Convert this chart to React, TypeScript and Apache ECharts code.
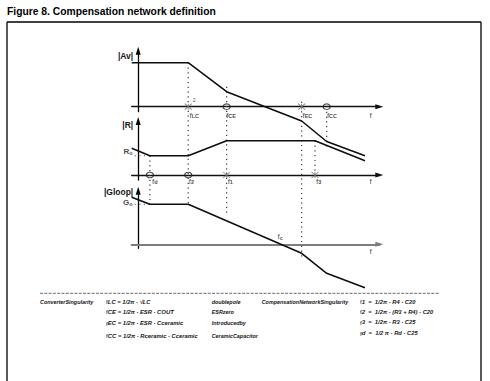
import React, { useEffect, useRef } from 'react';
import * as echarts from 'echarts';

const FONT = '"Liberation Sans", Arial, Helvetica, sans-serif';
const TXT = '#161616';

// ---- Frequency positions (log-frequency units, 0 = vertical axis) ----
const avFreq = [-0.65, 5.0, 8.84, 16.34, 18.84, 22.67];
const avMag = [4.4, 4.4, 1.5, -1.43, -3.48, -4.9];
const rFreq = [-0.65, 1.17, 5.0, 8.84, 17.67, 22.67];
const rMag = [2.67, 1.93, 1.93, 3.43, 3.43, 1.43];
const gFreq = [-0.65, 1.17, 5.0, 16.34, 18.84, 22.67];
const gMag = [4.7, 4.0, 4.0, -0.9, -2.9, -4.34];

// singularities on each frequency axis
const avPoles = [5.0, 16.34];
const avZeros = [8.84, 18.84];
const rPoles = [8.84, 17.67];
const rZeros = [1.17, 5.0];

// frequency labels
const avLabelFreq = [5.0, 8.84, 16.34, 18.84];
const avLabelSub = ['LC', 'CE', 'EC', 'CC'];
const rLabelFreq = [1.17, 5.0, 8.84, 17.67];
const rLabelSub = ['d', '2', '1', '3'];
const crossFreq = 14.17;
const axisEndFreq = 23.17;

// dotted guides (panel units)
const avGuideFreq = [5.0, 8.84, 16.34, 18.84];
const avGuideFrom = [4.4, 2.0, 0.5, -0.5];
const avGuideTo = [-9.76, -10.93, -15.13, -4.33];
const rGuideFreq = [1.17, 17.67];
const rGuideFrom = [1.93, 3.43];
const rGuideTo = [-2.93, -0.3];

// axis names
const panelNames = ['|Av|', '|R|', '|Gloop|'];

// table texts
const converterTitle = 'ConverterSingularity';
const compensationTitle = 'CompensationNetworkSingularity';
const converterNotes = ['doublepole', 'ESRzero', 'Introducedby', 'CeramicCapacitor'];
const converterFormulas = [
  '{f|f}{s|LC}{t| = 1/2π · √LC}',
  '{f|f}{s|CE}{t| = 1/2π · ESR · C}{s|OUT}',
  '{f|f}{s|EC}{t| = 1/2π · ESR · Cceramic}',
  '{f|f}{s|CC}{t| = 1/2π · Rceramic · Cceramic}',
];
const compensationFormulas = [
  '{f|f}{s|1}{t|  =  1/2π · R4 · C20}',
  '{f|f}{s|2}{t|  =  1/2π · (R3 + R4) · C20}',
  '{f|f}{s|3}{t|  =  1/2π · R3 · C25}',
  '{f|f}{s|d}{t|  =  1/2 π · Rd · C25}',
];

const X_MIN = -0.65;
const X_MAX = 24.1;
const GRID_LEFT = 131.7;
const GRID_W = 247.6;

const richLab = {
  f: { fontSize: 8, fontFamily: FONT, color: TXT },
  s: { fontSize: 5.5, fontFamily: FONT, fontWeight: 'bold', color: TXT, verticalAlign: 'bottom' },
  n: { fontSize: 8, fontFamily: FONT, fontWeight: 'bold', color: TXT },
  sm: { fontSize: 5, fontFamily: FONT, color: TXT },
};

function curve(i: number, xs: number[], ys: number[]) {
  return {
    type: 'line', xAxisIndex: i, yAxisIndex: i, silent: true, clip: false,
    symbol: 'none', showSymbol: false, z: 5,
    data: xs.map((x, k) => [x, ys[k]]),
    lineStyle: { color: '#0d0d0d', width: 1.5 },
  };
}

function guides(i: number, xs: number[], from: number[], to: number[]) {
  return xs.map((x, k) => ({
    type: 'line', xAxisIndex: i, yAxisIndex: i, silent: true, clip: false,
    symbol: 'none', showSymbol: false, z: 3,
    data: [[x, from[k]], [x, to[k]]],
    lineStyle: { color: '#3a3a3a', width: 1.2, type: [1.2, 3.6] },
  }));
}

function leader(i: number, level: number) {
  return {
    type: 'line', xAxisIndex: i, yAxisIndex: i, silent: true, clip: false,
    symbol: 'none', showSymbol: false, z: 3,
    data: [[-0.35, level], [1.17, level]],
    lineStyle: { color: '#555', width: 1.1, type: [1.1, 3.5] },
  };
}

function zeros(i: number, xs: number[]) {
  return {
    type: 'scatter', xAxisIndex: i, yAxisIndex: i, silent: true, clip: false, z: 6,
    symbol: 'circle', symbolSize: [7, 5.6],
    itemStyle: { color: 'rgba(255,255,255,0)', borderColor: '#222', borderWidth: 1.2 },
    data: xs.map((x) => [x, 0]),
  };
}

function poles(i: number, xs: number[]) {
  return {
    type: 'scatter', xAxisIndex: i, yAxisIndex: i, silent: true, clip: false, z: 6,
    symbol: 'path://M0,0L8,6M8,0L0,6M4,0L4,6', symbolSize: [7, 6],
    itemStyle: { color: 'none', borderColor: '#777', borderWidth: 1 },
    data: xs.map((x) => [x, 0]),
  };
}

type Lab = { x: number; y: number; text: string; dx: number; dy: number; align?: string };
function labels(i: number, items: Lab[]) {
  return {
    type: 'scatter', xAxisIndex: i, yAxisIndex: i, silent: true, clip: false, z: 7,
    symbolSize: 1, itemStyle: { color: 'rgba(0,0,0,0)' },
    data: items.map((it) => ({
      value: [it.x, it.y],
      label: {
        show: true, formatter: it.text, position: [it.dx, it.dy],
        align: it.align || 'left', verticalAlign: 'middle', rich: richLab,
      },
    })),
  };
}

function xAxis(i: number, color: string, width: number) {
  return {
    type: 'value', gridIndex: i, min: X_MIN, max: X_MAX,
    axisLine: {
      show: true, onZero: true, symbol: ['none', 'triangle'], symbolSize: [5, 8],
      lineStyle: { color, width },
    },
    axisTick: { show: false }, axisLabel: { show: false }, splitLine: { show: false },
  };
}

function yAxis(i: number, min: number, max: number, nameGap: number) {
  return {
    type: 'value', gridIndex: i, min, max, position: 'left',
    offset: -(0 - X_MIN) * (GRID_W / (X_MAX - X_MIN)),
    name: panelNames[i], nameLocation: 'end', nameGap,
    nameTextStyle: {
      align: 'right', verticalAlign: 'middle', padding: [0, 5, 0, 0],
      fontSize: 8.5, fontWeight: 'bold', fontFamily: FONT, color: TXT,
    },
    axisLine: {
      show: true, onZero: false, symbol: ['none', 'triangle'], symbolSize: [5, 8],
      lineStyle: { color: '#000', width: 1.3 },
    },
    axisTick: { show: false }, axisLabel: { show: false }, splitLine: { show: false },
  };
}

function tableText(x: number, y: number, text: string, size: number) {
  return {
    type: 'text', x, y, silent: true,
    style: {
      text, fill: TXT, fontFamily: FONT, fontSize: size, fontStyle: 'italic', fontWeight: 'bold',
      verticalAlign: 'middle', align: 'left',
      rich: {
        f: { fontSize: 6.2, fontFamily: FONT, fontStyle: 'normal', fill: TXT, color: TXT, verticalAlign: 'top' },
        s: { fontSize: 6, fontFamily: FONT, fontStyle: 'italic', fontWeight: 'bold', fill: TXT, color: TXT, verticalAlign: 'bottom' },
        t: { fontSize: 5.8, fontFamily: FONT, fontStyle: 'italic', fontWeight: 'bold', fill: TXT, color: TXT },
      },
    },
  };
}

function buildOption() {
  const colRowsY = [301.7, 311.7, 323.3, 335.7];
  const col5RowsY = [301.7, 311.7, 322.3, 333.3];
  const graphics: any[] = [
    { type: 'line', silent: true, shape: { x1: 7, y1: 22, x2: 481, y2: 22 }, style: { stroke: '#000', lineWidth: 1.3 } },
    { type: 'line', silent: true, shape: { x1: 7, y1: 22, x2: 7, y2: 381 }, style: { stroke: '#000', lineWidth: 1.3 } },
    { type: 'line', silent: true, shape: { x1: 481, y1: 22, x2: 481, y2: 381 }, style: { stroke: '#000', lineWidth: 1.3 } },
    { type: 'line', silent: true, shape: { x1: 40, y1: 293.3, x2: 440, y2: 293.3 }, style: { stroke: '#6a6a6a', lineWidth: 1, lineDash: [3, 1.3] } },
    tableText(40, colRowsY[0], converterTitle, 5.4),
    tableText(261.7, col5RowsY[0], compensationTitle, 5.4),
  ];
  converterNotes.forEach((t, k) => graphics.push(tableText(211.7, colRowsY[k], t, 5.4)));
  converterFormulas.forEach((t, k) => graphics.push(tableText(106, colRowsY[k], t, 6)));
  compensationFormulas.forEach((t, k) => graphics.push(tableText(360, col5RowsY[k], t, 6)));

  const avLabs: Lab[] = avLabelFreq.map((x, k) => ({
    x, y: 0, text: `{f|f}{s|${avLabelSub[k]}}`, dx: [1.7, 0, 1.3, 0.7][k], dy: 8.8,
  }));
  avLabs.push({ x: axisEndFreq, y: 0, text: '{f|f}', dx: 0, dy: 8.8 });
  avLabs.push({ x: avPoles[0], y: 0, text: '{sm|2}', dx: 5, dy: -6.2 });

  const rLabs: Lab[] = rLabelFreq.map((x, k) => ({
    x, y: 0, text: `{f|f}{s|${rLabelSub[k]}}`, dx: [2.5, 1, 1.5, 1.5][k], dy: 6.5,
  }));
  rLabs.push({ x: axisEndFreq, y: 0, text: '{f|f}', dx: 0, dy: 6.5 });
  rLabs.push({ x: 0, y: rMag[1], text: '{n|R}{s|o}', dx: -5, dy: -3.5, align: 'right' });

  const gLabs: Lab[] = [
    { x: crossFreq, y: 0, text: '{f|f}{s|c}', dx: -2, dy: -7.2 },
    { x: axisEndFreq, y: 0, text: '{f|f}', dx: 0, dy: 7.8 },
    { x: 0, y: gMag[1], text: '{n|G}{s|o}', dx: -5, dy: -1.3, align: 'right' },
  ];

  return {
    animation: false,
    backgroundColor: '#fff',
    title: {
      text: 'Figure 8. Compensation network definition', left: 7, top: 6, padding: 0,
      textStyle: { fontSize: 10.3, fontWeight: 'bold', fontFamily: FONT, color: '#000' },
    },
    grid: [
      { left: GRID_LEFT, top: 50.7, width: GRID_W, height: 61, outerBoundsMode: 'none' },
      { left: GRID_LEFT, top: 121, width: GRID_W, height: 59, outerBoundsMode: 'none' },
      { left: GRID_LEFT, top: 190.7, width: GRID_W, height: 57.6, outerBoundsMode: 'none' },
    ],
    xAxis: [xAxis(0, '#111', 1.4), xAxis(1, '#111', 1.4), xAxis(2, '#7e7e7e', 2.2)],
    yAxis: [yAxis(0, -0.5, 5.6, -5), yAxis(1, -0.5, 5.4, -4), yAxis(2, -0.4, 5.36, -1.5)],
    series: [
      curve(0, avFreq, avMag),
      curve(1, rFreq, rMag),
      curve(2, gFreq, gMag),
      ...guides(0, avGuideFreq, avGuideFrom, avGuideTo),
      ...guides(1, rGuideFreq, rGuideFrom, rGuideTo),
      leader(1, rMag[1]),
      leader(2, gMag[1]),
      zeros(0, avZeros), poles(0, avPoles),
      zeros(1, rZeros), poles(1, rPoles),
      labels(0, avLabs), labels(1, rLabs), labels(2, gLabs),
    ],
    graphic: graphics,
  };
}

export default function App() {
  const ref = useRef<HTMLDivElement>(null);
  useEffect(() => {
    if (!ref.current) return;
    const chart = echarts.init(ref.current, null, { renderer: 'svg' });
    chart.setOption(buildOption() as any);
    return () => chart.dispose();
  }, []);
  return (
    <div
      ref={ref}
      style={{ position: 'fixed', left: 0, top: 0, width: 490, height: 381, background: '#fff' }}
    />
  );
}
